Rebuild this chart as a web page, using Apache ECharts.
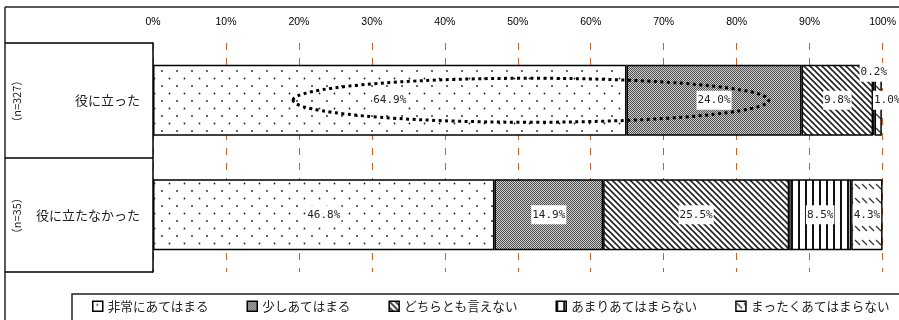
<!DOCTYPE html>
<html>
<head>
<meta charset="utf-8">
<script src="https://cdn.jsdelivr.net/npm/echarts@6/dist/echarts.min.js"></script>
<style>
    html, body {margin: 0; padding: 0; background: #fff;}
    #chart {width: 899px; height: 320px;}
</style>
</head>
<body>
<div id="chart"></div>
<script>
const categories = ['役に立った', '役に立たなかった'];
const sampleSizes = ['（n=327）', '（n=35）'];
const seriesNames = ['非常にあてはまる', '少しあてはまる', 'どちらとも言えない', 'あまりあてはまらない', 'まったくあてはまらない'];
const veryTrue = [64.9, 46.8];
const somewhatTrue = [24.0, 14.9];
const neutral = [9.8, 25.5];
const notVery = [0.2, 8.5];
const notAtAll = [1.0, 4.3];
// dotted ellipse around the first row, from/to in %
const ellipseFrom = 19.2;
const ellipseTo = 84.4;

const seriesValues = [veryTrue, somewhatTrue, neutral, notVery, notAtAll];

function makePattern(w, h, draw) {
    const c = document.createElement('canvas');
    c.width = w;
    c.height = h;
    const ctx = c.getContext('2d');
    ctx.fillStyle = '#fff';
    ctx.fillRect(0, 0, w, h);
    draw(ctx);
    return {image: c, repeat: 'repeat'};
}

const patterns = [
    // sparse dots
    makePattern(15, 15, ctx => {
        ctx.fillStyle = '#222';
        [[12, 11], [4.5, 3.5]].forEach(p => {
            ctx.beginPath();
            ctx.arc(p[0], p[1], 0.9, 0, Math.PI * 2);
            ctx.fill();
        });
    }),
    // fine checker
    makePattern(2, 2, ctx => {
        ctx.fillStyle = '#cccccc';
        ctx.fillRect(0, 0, 2, 2);
        ctx.fillStyle = '#505050';
        ctx.fillRect(0, 0, 1, 1);
        ctx.fillRect(1, 1, 1, 1);
    }),
    // diagonal stripes
    makePattern(6, 6, ctx => {
        ctx.strokeStyle = '#222';
        ctx.lineWidth = 1.6;
        [[-1, -1, 7, 7], [5, -1, 7, 1], [-1, 5, 1, 7]].forEach(l => {
            ctx.beginPath();
            ctx.moveTo(l[0], l[1]);
            ctx.lineTo(l[2], l[3]);
            ctx.stroke();
        });
    }),
    // vertical stripes
    makePattern(7, 1, ctx => {
        ctx.fillStyle = '#111';
        ctx.fillRect(0, 0, 2, 1);
    }),
    // short diagonal dashes
    makePattern(7, 14, ctx => {
        ctx.strokeStyle = '#333';
        ctx.lineWidth = 1.3;
        ctx.beginPath();
        ctx.moveTo(1, 2);
        ctx.lineTo(6, 7);
        ctx.stroke();
    })
];

// labels that do not fit inside their bar
const labelShift = {'3-0': [0, -28], '4-0': [9, 0]};

let chart = echarts.init(document.getElementById('chart'));

let option = {
    animation: false,
    grid: {left: 153, right: 15, top: 43, bottom: 48},
    legend: {
        left: 92,
        top: 300,
        width: 830,
        padding: 0,
        icon: 'rect',
        itemWidth: 10,
        itemHeight: 10,
        itemGap: 38,
        itemStyle: {borderColor: '#000', borderWidth: 1.5},
        textStyle: {fontSize: 12.6, color: '#222', fontFamily: 'Noto Sans CJK JP'},
        data: seriesNames
    },
    xAxis: {
        type: 'value',
        position: 'top',
        min: 0,
        max: 100,
        interval: 10,
        axisLine: {show: false},
        axisTick: {show: false},
        axisLabel: {
            formatter: '{value}%',
            margin: 15,
            fontSize: 10.5,
            color: '#000',
            fontFamily: 'Liberation Sans, Arial, sans-serif'
        },
        splitLine: {lineStyle: {color: '#c0662a', width: 1, type: [7, 8]}}
    },
    yAxis: {
        type: 'category',
        inverse: true,
        data: categories,
        axisLine: {lineStyle: {color: '#000', width: 1.5}},
        axisTick: {show: true, inside: false, length: 148, lineStyle: {color: '#000', width: 1.5}},
        axisLabel: {margin: 13, fontSize: 13, color: '#222', fontFamily: 'Noto Sans CJK JP'}
    },
    series: seriesValues.map((vals, i) => ({
        name: seriesNames[i],
        type: 'bar',
        stack: 'total',
        barWidth: 71,
        itemStyle: {color: patterns[i], borderColor: '#000', borderWidth: 1.5},
        label: {
            show: true,
            position: 'inside',
            formatter: p => p.value.toFixed(1) + '%',
            fontFamily: 'DejaVu Sans Mono, monospace',
            fontSize: 11,
            color: '#222',
            backgroundColor: '#fff',
            padding: [4, 1]
        },
        data: vals.map((v, j) => {
            const off = labelShift[i + '-' + j];
            return off ? {value: v, label: {offset: off}} : v;
        })
    }))
};
chart.setOption(option);

// frame, dotted ellipse and sample sizes
const x0 = chart.convertToPixel({xAxisIndex: 0}, ellipseFrom);
const x1 = chart.convertToPixel({xAxisIndex: 0}, ellipseTo);
const rowY = categories.map(c => chart.convertToPixel({yAxisIndex: 0}, c));

chart.setOption({
    graphic: [
        {type: 'line', shape: {x1: 5, y1: 7, x2: 899, y2: 7}, style: {stroke: '#222', lineWidth: 1.5}},
        {type: 'line', shape: {x1: 5, y1: 7, x2: 5, y2: 320}, style: {stroke: '#222', lineWidth: 1.5}},
        {type: 'rect', shape: {x: 72, y: 294, width: 840, height: 40}, style: {fill: null, stroke: '#222', lineWidth: 1.5}},
        {
            type: 'ellipse',
            z: 100,
            shape: {cx: (x0 + x1) / 2, cy: rowY[0], rx: (x1 - x0) / 2, ry: 22},
            style: {fill: null, stroke: '#000', lineWidth: 3, lineDash: [3, 3.5]}
        }
    ].concat(sampleSizes.map((t, i) => ({
        type: 'text',
        x: 16.5,
        y: rowY[i] + 1,
        rotation: Math.PI / 2,
        style: {
            text: t,
            fontSize: 11,
            fill: '#222',
            fontFamily: 'Noto Sans CJK JP',
            align: 'center',
            verticalAlign: 'middle'
        }
    })))
});
</script>
</body>
</html>
